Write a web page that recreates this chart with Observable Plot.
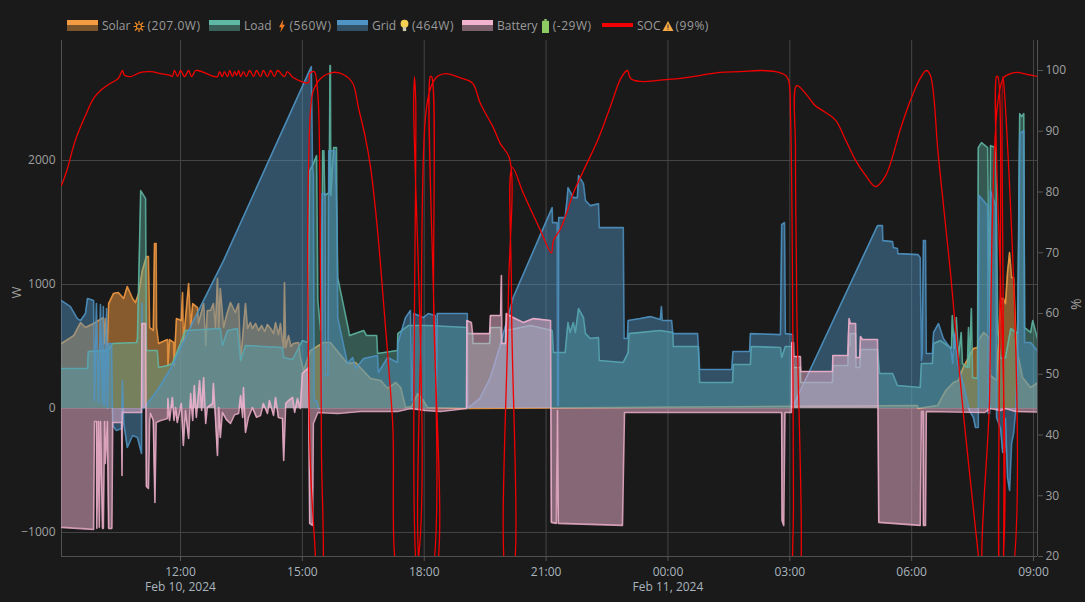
<!DOCTYPE html>
<html>
<head>
<meta charset="utf-8">
<script src="https://cdn.jsdelivr.net/npm/d3@7"></script>
<script src="https://cdn.jsdelivr.net/npm/@observablehq/plot@0.6"></script>
<style>
html,body{margin:0;padding:0;background:#1a1a1a;width:1085px;height:602px;overflow:hidden}
#legend{position:relative;height:38px;font:12px "Open Sans",sans-serif;color:#9a9a9a}
.item{position:absolute;top:18px;height:16px;line-height:16px;white-space:nowrap;display:flex;align-items:center}
.sw{width:31px;height:11px;margin-right:4px;position:relative;top:-1px}
.sw i{display:block;height:5px}
.sw b{display:block;height:6px;opacity:.45}
.val{letter-spacing:.55px}
svg{display:block}
</style>
</head>
<body>
<div id="legend"></div>
<div id="chart"></div>
<script>
// time = hours since Feb 10 2024 00:00, value in W or %
const solarW = [[9.07,524],[9.37,588],[9.54,693],[9.66,653],[9.86,685],[10.10,733],[10.13,524],[10.15,725],[10.2,508],[10.23,846],[10.35,927],[10.47,935],[10.6,887],[10.69,983],[10.82,887],[10.89,854],[10.97,927],[11.06,1112],[11.16,1225],[11.21,1225],[11.24,653],[11.33,629],[11.36,1330],[11.4,1330],[11.41,653],[11.46,524],[11.68,556],[11.69,347],[11.73,556],[11.83,532],[11.84,347],[11.9,725],[12.02,709],[12.05,935],[12.07,532],[12.2,1008],[12.25,653],[12.3,846],[12.42,814],[12.44,685],[12.57,846],[12.62,508],[12.66,790],[12.74,790],[12.81,846],[12.86,653],[12.91,1048],[12.94,653],[12.98,967],[13.06,653],[13.14,760],[13.23,854],[13.35,774],[13.43,846],[13.48,387],[13.6,846],[13.65,645],[13.72,693],[13.77,645],[13.85,685],[13.92,629],[14,669],[14.07,621],[14.14,677],[14.22,645],[14.29,604],[14.34,693],[14.41,596],[14.46,685],[14.51,548],[14.54,492],[14.56,1016],[14.59,492],[14.66,588],[14.72,500],[14.78,524],[14.91,532],[14.95,411],[15.03,306],[15.2,467],[15.52,532],[15.69,532],[16.11,363],[16.31,371],[16.68,242],[16.93,226],[17.1,161],[17.3,210],[17.42,169],[17.54,8],[17.69,16],[17.84,121],[17.98,64],[18.08,8],[19.14,0],[30.14,24],[30.16,0],[30.47,16],[30.64,24],[30.84,145],[31.03,210],[31.15,226],[31.27,330],[31.4,411],[31.52,484],[31.62,492],[31.64,548],[31.77,613],[31.92,572],[31.94,266],[32.09,226],[32.19,887],[32.26,887],[32.31,846],[32.36,1096],[32.41,1257],[32.46,1056],[32.51,1056],[32.56,629],[32.61,443],[32.73,250],[32.93,169],[33.1,207]];

const loadW = [[9.07,322],[9.71,322],[9.73,459],[10.20,467],[10.33,524],[10.92,532],[10.94,564],[11.02,1757],[11.14,1693],[11.16,467],[11.43,467],[11.46,330],[11.68,347],[11.80,363],[12,524],[12.12,629],[12.98,645],[13.03,508],[13.16,629],[13.4,645],[13.48,387],[13.6,508],[14.51,492],[14.54,411],[14.76,395],[15.0,548],[15.13,532],[15.18,1918],[15.25,1959],[15.35,2039],[15.38,870],[15.45,629],[15.47,629],[15.5,2079],[15.53,2079],[15.55,1717],[15.66,1741],[15.68,2765],[15.69,2765],[15.7,1717],[15.77,2104],[15.84,2104],[15.85,1556],[15.87,1056],[16.13,645],[16.16,588],[16.51,629],[16.58,588],[16.83,588],[16.85,443],[17.34,467],[17.35,604],[17.61,669],[18.1,669],[19.06,653],[19.07,604],[19.19,604],[19.2,524],[19.61,524],[19.63,653],[19.88,653],[19.9,524],[20,524],[20.01,629],[20.62,669],[21.15,629],[21.18,451],[21.47,451],[21.52,629],[21.54,693],[21.59,613],[21.67,693],[21.72,613],[21.8,806],[21.92,733],[21.97,604],[22.09,564],[22.29,572],[22.31,387],[22.9,371],[23.02,451],[23.04,604],[23.81,629],[24.12,613],[24.13,500],[24.75,500],[24.78,210],[25.59,210],[25.61,355],[26.03,355],[26.05,500],[26.77,492],[26.8,411],[26.89,500],[27.07,500],[27.09,330],[27.26,330],[27.27,210],[28.05,210],[28.06,347],[28.43,347],[28.44,508],[28.48,508],[28.49,604],[28.62,604],[28.63,330],[28.72,330],[28.74,476],[29.16,476],[29.21,282],[29.53,282],[29.65,185],[30.21,169],[30.24,363],[30.51,363],[30.54,524],[30.71,548],[30.88,508],[30.98,484],[31,750],[31.05,484],[31.10,733],[31.15,411],[31.22,613],[31.25,363],[31.37,330],[31.4,653],[31.42,330],[31.47,806],[31.5,250],[31.62,242],[31.64,2104],[31.72,2144],[31.87,2104],[31.92,604],[31.94,2120],[32.07,2104],[32.12,604],[32.19,403],[32.31,411],[32.44,645],[32.61,604],[32.66,2378],[32.71,2354],[32.76,2378],[32.78,653],[32.93,613],[32.98,709],[33.1,560]];

const gridW = [[9.07,870],[9.29,822],[9.46,725],[9.54,709],[9.66,766],[9.71,887],[9.86,870],[9.88,64],[9.93,846],[9.98,48],[10.03,838],[10.08,40],[10.10,822],[10.13,24],[10.18,806],[10.20,0],[10.23,524],[10.30,524],[10.33,-137],[10.42,-177],[10.55,-161],[10.57,226],[10.60,-113],[10.69,-314],[10.82,-218],[10.94,-234],[11.04,-363],[11.05,846],[11.07,64],[11.09,0],[11.43,145],[11.83,363],[12.32,709],[13.06,1193],[15.22,2757],[15.25,1942],[15.27,1878],[15.29,64],[15.35,64],[15.4,0],[15.47,0],[15.49,1733],[15.56,1733],[15.57,266],[15.63,266],[15.65,2079],[15.8,2079],[15.85,1556],[15.87,733],[16.11,363],[16.24,411],[16.31,322],[16.51,403],[16.85,427],[16.87,290],[17.1,411],[17.34,371],[17.35,524],[17.54,733],[17.66,790],[17.69,64],[17.71,64],[17.74,766],[17.98,733],[18.1,766],[18.27,750],[18.3,0],[18.32,766],[19.06,766],[19.07,0],[19.37,81],[19.62,242],[19.87,508],[20.19,895],[21.15,1620],[21.16,1499],[21.27,1499],[21.28,24],[21.3,24],[21.31,1539],[21.47,1539],[21.52,1701],[21.54,1781],[21.67,1701],[21.77,1701],[21.8,1878],[21.92,1814],[21.97,1676],[22.09,1636],[22.29,1652],[22.31,1459],[22.9,1459],[22.92,564],[23.0,564],[23.02,709],[23.32,725],[23.57,741],[23.81,717],[23.84,822],[23.86,709],[24.09,709],[24.12,604],[24.73,604],[24.78,314],[25.57,314],[25.6,459],[26.01,459],[26.03,604],[26.77,596],[26.8,1483],[26.87,1499],[26.89,604],[27.07,596],[27.09,24],[29.16,1475],[29.28,1475],[29.29,1354],[29.53,1346],[29.55,1298],[29.65,1290],[29.66,1249],[30.16,1241],[30.21,1217],[30.24,387],[30.26,443],[30.29,1354],[30.34,1354],[30.36,443],[30.51,443],[30.54,613],[30.66,685],[30.78,564],[30.96,484],[31.01,363],[31.05,604],[31.13,363],[31.27,202],[31.42,-16],[31.52,-73],[31.57,-153],[31.64,-153],[31.66,1717],[31.87,1636],[31.88,-40],[31.92,-40],[31.94,1757],[32.07,1636],[32.09,-73],[32.19,-161],[32.24,-355],[32.29,-355],[32.31,-81],[32.36,-556],[32.41,-661],[32.46,-282],[32.51,-201],[32.56,-16],[32.61,387],[32.66,2217],[32.76,2241],[32.78,532],[32.93,532],[33.1,464]];

const batteryW = [[9.07,-959],[9.86,-975],[9.88,-105],[9.93,-105],[9.94,-967],[9.98,-105],[10,-959],[10.03,-105],[10.08,-967],[10.10,-967],[10.13,-105],[10.15,-443],[10.20,-105],[10.23,-967],[10.31,-967],[10.33,-113],[10.55,-113],[10.56,-540],[10.57,-32],[11.04,-32],[11.05,685],[11.14,685],[11.15,-16],[11.16,-629],[11.21,-645],[11.24,-97],[11.26,-40],[11.33,-97],[11.37,-758],[11.4,-113],[11.51,-97],[11.68,-81],[11.69,81],[11.73,-97],[11.80,89],[11.84,-97],[11.88,8],[11.92,-113],[12.02,40],[12.07,-298],[12.12,-16],[12.2,-242],[12.25,121],[12.3,-97],[12.34,185],[12.39,-73],[12.47,226],[12.52,-16],[12.57,250],[12.62,-121],[12.66,8],[12.79,40],[12.81,202],[12.86,-73],[12.91,-379],[12.94,8],[12.98,-234],[13.03,-32],[13.13,-90],[13.23,-121],[13.33,-50],[13.43,-40],[13.48,105],[13.53,-73],[13.55,169],[13.6,-193],[13.67,-73],[13.77,8],[13.87,-70],[13.97,-56],[14.04,40],[14.14,-40],[14.19,64],[14.29,-56],[14.34,89],[14.41,-73],[14.51,-81],[14.54,-419],[14.59,40],[14.66,64],[14.76,89],[14.81,-32],[14.88,81],[14.95,0],[15,282],[15.13,322],[15.15,330],[15.18,-927],[15.25,-943],[15.27,-121],[15.38,-32],[15.87,-40],[16.43,-24],[17.34,-24],[17.66,0],[18.03,-16],[18.4,-24],[19.04,0],[19.05,709],[19.16,693],[19.19,604],[19.61,604],[19.63,750],[19.88,750],[19.9,1072],[19.91,524],[20,524],[20.02,766],[20.19,733],[20.44,693],[20.69,725],[21.11,709],[21.13,-919],[21.25,-927],[21.28,-16],[21.3,-927],[22.88,-943],[22.93,-32],[26.8,-32],[26.81,-903],[26.85,-943],[26.88,-32],[27.04,-32],[27.05,532],[27.09,532],[27.1,419],[27.26,419],[27.27,298],[28.05,298],[28.06,427],[28.43,427],[28.44,572],[28.46,725],[28.49,685],[28.62,685],[28.63,411],[28.72,411],[28.74,580],[28.79,556],[29.16,556],[29.19,-919],[30.21,-943],[30.24,-24],[30.28,-24],[30.29,-943],[30.34,-943],[30.36,-24],[31.8,-32],[31.94,0],[32.19,-16],[32.31,0],[32.56,-24],[33.1,-29]];

const socPct = [[9.07,81.1],[9.2,83.5],[9.41,88.5],[9.66,92.6],[9.86,95.4],[10.03,96.7],[10.28,97.9],[10.47,98.7],[10.57,100],[10.62,99.2],[10.77,99],[11.02,99.7],[11.26,99.8],[11.51,99.5],[11.75,99.2],[11.8,99],[11.85,100],[11.93,99],[12,100],[12.1,99],[12.2,100],[12.27,99],[12.37,100],[12.42,100],[12.57,99.7],[12.74,99.2],[12.91,99],[12.96,99.8],[13.03,99],[13.08,99.8],[13.16,99],[13.21,100],[13.28,99],[13.33,99.8],[13.38,99.2],[13.43,100],[13.48,99],[13.55,99.8],[13.62,99],[13.7,100],[13.8,99],[13.87,100],[13.97,99],[14.04,100],[14.14,99],[14.22,100],[14.31,99],[14.39,100],[14.56,99],[14.63,99.8],[14.78,98.8],[15.15,98],[15.18,99.5],[15.25,99.8],[15.3,99.8],[15.38,96.2],[15.43,83],[15.45,62.1],[15.47,37.4],[15.5,16],[15.4,12.8],[15.3,22.6],[15.2,34.6],[15.15,52.3],[15.13,68.7],[15.15,83.5],[15.2,93.4],[15.27,96.7],[15.45,98.7],[15.77,99.7],[16.02,99.3],[16.24,97.9],[16.38,93.9],[16.55,89],[16.68,84],[16.85,73.7],[17,61.6],[17.22,42.4],[17.42,16],[17.71,16],[17.74,95.1],[17.76,99],[17.79,95.1],[17.86,16],[17.91,16],[18.13,16],[18.15,99],[18.18,99],[18.23,62.1],[18.25,16],[18,14.4],[17.93,62.1],[18.03,92.3],[18.15,97],[18.32,99],[18.52,99.5],[18.89,98.8],[19.19,97.9],[19.38,94.6],[19.7,90.6],[19.87,88],[20.1,85.5],[20.07,62.1],[20.05,16],[20.15,16],[20.15,62.1],[20.17,84],[20.44,79.8],[20.84,74],[21.13,70],[21.18,72],[21.36,74],[21.53,77],[21.67,79.8],[21.92,83.5],[22.27,88.5],[22.59,94.2],[22.84,98.7],[23,100],[23.08,98.7],[23.32,98.2],[23.81,98.4],[24.3,98.7],[24.8,99.2],[25.29,99.7],[25.78,99.8],[26.28,100],[26.65,99.8],[26.89,99.2],[26.97,98.4],[27.02,91.8],[27.07,62.1],[27.09,29.2],[27.12,12.8],[27.19,12.8],[27.17,62.1],[27.14,86.8],[27.17,97.5],[27.39,96.2],[27.63,94.2],[27.88,93.1],[28.13,91.8],[28.38,88.5],[28.62,85.2],[28.87,82.7],[29.11,80.9],[29.36,82.7],[29.73,90.5],[29.97,95.1],[30.21,98.7],[30.36,100],[30.46,99.2],[30.66,85.7],[30.96,66.4],[31.27,43.7],[31.64,20.3],[31.74,12.8],[32.07,12.8],[32.09,99],[32.12,99],[32.19,12.8],[32.21,12.8],[32.24,99],[32.26,98.4],[32.31,12.8],[31.89,12.8],[31.92,46.7],[31.97,70.4],[32.04,86.8],[32.12,94.6],[32.26,98.8],[32.44,99.5],[32.61,99.7],[32.88,99.3],[33.1,99]];

const xTickHours = [12,15,18,21,24,27,30,33];
const xTickLabels = ["12:00\nFeb 10, 2024","15:00","18:00","21:00","00:00\nFeb 11, 2024","03:00","06:00","09:00"];
const yTicksW = [-1000,0,1000,2000];
const yTicksPct = [20,30,40,50,60,70,80,90,100];
const legendItems = [
  {name:"Solar",icon:"sun",value:"(207.0W)",color:"#f59b42",left:67,ml:3,mr:2},
  {name:"Load",icon:"bolt",value:"(560W)",color:"#5fb8a6",left:209,ml:6,mr:4},
  {name:"Grid",icon:"bulb",value:"(464W)",color:"#4f94c4",left:337,ml:4,mr:3},
  {name:"Battery",icon:"batt",value:"(-29W)",color:"#f2b3cf",left:462,ml:4,mr:4},
  {name:"SOC",icon:"warn",value:"(99%)",color:"#f00000",left:602,ml:2,mr:1}
];

const toDate = h => new Date(Date.UTC(2024,1,10) + h*3600000);
const pctToW = p => (p-20)*49 - 1194;
const wToPct = w => (w+1194)/49 + 20;

function series(rows,color,fo,sw){
  return [
    Plot.area(rows,{x1:d=>toDate(d[0]),y1:()=>0,y2:d=>d[1],fill:color,fillOpacity:fo,clip:true}),
    Plot.line(rows,{x:d=>toDate(d[0]),y:d=>d[1],stroke:color,strokeWidth:sw,strokeOpacity:.85,clip:true})
  ];
}

const icons = {
  sun:'<svg width="12" height="13" viewBox="0 0 24 24"><g stroke="#f08a24" stroke-width="2.4" fill="none"><circle cx="12" cy="12" r="5"/><path d="M12 1v5M12 18v5M1 12h5M18 12h5M4 4l4 4M16 16l4 4M20 4l-4 4M8 16l-4 4"/></g></svg>',
  bolt:'<svg width="8" height="14" viewBox="0 0 12 24"><path d="M8 1L1 14h4l-2 9 8-13H7z" fill="#f47a20"/></svg>',
  bulb:'<svg width="9" height="14" viewBox="0 0 16 24"><circle cx="8" cy="8" r="7" fill="#f5cf52"/><rect x="5" y="14" width="6" height="7" fill="#c9c9b0"/></svg>',
  batt:'<svg width="7" height="14" viewBox="0 0 12 24"><rect x="4" y="0" width="4" height="3" fill="#9fd27a"/><rect x="0" y="3" width="12" height="21" rx="1" fill="#8ccb62"/></svg>',
  warn:'<svg width="12" height="12" viewBox="0 0 24 22"><path d="M12 1L23 21H1z" fill="#f5a742"/><rect x="11" y="8" width="2" height="7" fill="#333"/><rect x="11" y="16.5" width="2" height="2" fill="#333"/></svg>'
};
const legend = document.getElementById("legend");
legendItems.forEach(it=>{
  const el = document.createElement("div");
  el.className = "item";
  el.style.left = it.left+"px";
  const swatch = it.name==="SOC"
    ? `<span class="sw" style="display:flex;align-items:center"><i style="width:100%;height:4px;background:${it.color}"></i></span>`
    : `<span class="sw"><i style="background:${it.color}"></i><b style="background:${it.color}"></b></span>`;
  el.innerHTML = swatch + `<span>${it.name}</span>`
    + `<span style="margin:0 ${it.mr}px 0 ${it.ml}px;display:flex">${icons[it.icon]}</span>`
    + `<span class="val">${it.value}</span>`;
  legend.appendChild(el);
});

const grid = "#454545";
const chart = Plot.plot({
  width:1085, height:564,
  marginLeft:61, marginRight:48, marginTop:2, marginBottom:46,
  style:{background:"#1a1a1a",fontFamily:"'Open Sans',sans-serif",fontSize:"12px",color:"#a0a0a0"},
  x:{type:"utc",domain:[toDate(9.07),toDate(33.098)]},
  y:{domain:[-1194,2968]},
  marks:[
    Plot.ruleX(xTickHours.map(toDate),{stroke:grid,strokeWidth:1}),
    Plot.ruleY(yTicksW,{stroke:grid,strokeWidth:1}),
    Plot.ruleX([toDate(9.07),toDate(33.098)],{stroke:"#505050",strokeWidth:1}),
    Plot.ruleY([-1194],{stroke:"#505050",strokeWidth:1}),
    ...series(solarW,"#f59b42",.5,1.6),
    ...series(loadW,"#5fb8a6",.4,1.6),
    ...series(gridW,"#4f94c4",.45,1.6),
    ...series(batteryW,"#f2b3cf",.5,1.6),
    Plot.line(socPct,{x:d=>toDate(d[0]),y:d=>pctToW(d[1]),stroke:"#f00000",strokeWidth:1.3,clip:true,curve:"catmull-rom"}),
    Plot.axisX(xTickHours.map(toDate),{anchor:"bottom",tickSize:5,tickPadding:3,stroke:"#555",color:"#a9b4bd",fontSize:12,lineHeight:1.3,
      tickFormat:(d,i)=>xTickLabels[i],label:null}),
    Plot.axisY(yTicksW,{anchor:"left",tickSize:0,tickPadding:6,color:"#a0a0a0",fontSize:12,label:null,tickFormat:d=>d===0?"0":(d<0?"−"+(-d):String(d))}),
    Plot.axisY(yTicksPct.map(pctToW),{anchor:"right",tickSize:5,tickPadding:3,stroke:"#555",color:"#a0a0a0",fontSize:12,label:null,
      tickFormat:d=>String(Math.round(wToPct(d)))}),
    Plot.text(["W"],{frameAnchor:"left",dx:-45,rotate:-90,fill:"#a0a0a0",fontSize:13}),
    Plot.text(["%"],{frameAnchor:"right",dx:39,rotate:-90,fill:"#a0a0a0",fontSize:14})
  ]
});
document.getElementById("chart").appendChild(chart);
</script>
</body>
</html>
